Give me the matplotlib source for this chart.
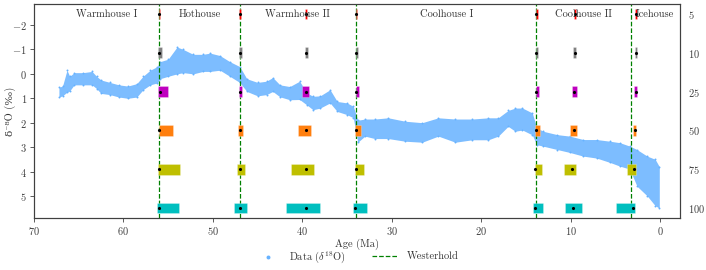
import matplotlib
matplotlib.use('Agg')
import matplotlib.pyplot as plt
import numpy as np

plt.rcParams['font.family'] = ['cmr10', 'DejaVu Serif']
plt.rcParams['mathtext.fontset'] = 'cm'
plt.rcParams['axes.formatter.use_mathtext'] = True
plt.rcParams['font.size'] = 7
plt.rcParams['axes.edgecolor'] = '0.25'
plt.rcParams['xtick.color'] = '0.25'
plt.rcParams['ytick.color'] = '0.25'
plt.rcParams['text.color'] = '0.2'
plt.rcParams['axes.labelcolor'] = '0.2'

# d18O band (age in Ma, low/high edge of the cloud)
age = [67.2, 66.8, 66.3, 66.0, 65.5, 64.5, 63.5, 63.0, 62.5, 61.5, 60.5, 59.5, 58.5,
       57.8, 57.0, 56.2, 55.9, 55.0, 54.0, 53.3, 52.2, 51.1, 50.3, 49.2, 48.1, 47.0,
       46.2, 45.0, 44.0, 43.3, 42.5, 41.4, 40.3, 39.5, 38.8, 38.0, 36.9, 36.1, 35.0,
       34.3, 33.8, 33.0, 31.9, 30.4, 28.5, 26.6, 24.8, 22.9, 21.0, 19.2, 18.1, 17.0,
       16.2, 15.4, 14.3, 13.8, 13.1, 11.5, 10.1, 8.6, 7.1, 5.6, 4.5, 3.4, 2.6, 1.45,
       0.56, 0.1]
d18o_lo = [0.55, 0.5, -0.15, 0.1, -0.05, -0.05, -0.1, 0.1, 0.25, 0.35, 0.45, 0.5, 0.4,
           0.1, -0.15, -0.3, -0.5, -0.6, -1.1, -1.0, -0.8, -0.8, -0.85, -0.75, -0.5, -0.3,
           0.2, 0.35, 0.3, 0.15, 0.45, 0.52, 0.3, 0.78, 0.92, 0.9, 0.65, 1.13, 1.19,
           1.33, 1.9, 1.85, 1.85, 1.8, 1.94, 2.0, 1.8, 1.85, 1.85, 1.8, 1.8, 1.5,
           1.4, 1.4, 1.6, 2.2, 2.35, 2.49, 2.55, 2.69, 2.69, 2.76, 2.82, 2.96, 3.1, 3.37,
           3.5, 3.8]
d18o_hi = [0.95, 0.9, 0.75, 0.7, 0.45, 0.45, 0.45, 0.6, 0.8, 0.85, 0.95, 1.0, 0.95,
           0.65, 0.45, 0.37, 0.2, 0.1, 0.0, -0.05, 0.0, -0.1, -0.1, -0.15, 0.1, 0.35,
           0.72, 0.9, 0.85, 0.72, 0.94, 1.06, 1.05, 1.27, 1.47, 1.4, 1.19, 1.54, 1.67,
           1.8, 2.8, 2.55, 2.65, 2.65, 2.76, 2.8, 2.55, 2.8, 2.7, 2.7, 2.55, 2.15,
           2.35, 2.3, 2.5, 2.9, 2.96, 3.1, 3.22, 3.37, 3.45, 3.63, 3.78, 3.9, 4.6, 5.0,
           5.4, 5.5]

# Westerhold transitions and regime names
westerhold = [56.0, 47.0, 34.0, 13.9, 3.3]
regimes = ['Warmhouse I', 'Hothouse', 'Warmhouse II', 'Coolhouse I', 'Coolhouse II', 'Icehouse']
regime_x = [61.9, 51.5, 40.5, 23.9, 8.6, 0.6]

# changepoint estimates per setting (right axis)
settings = ['5', '10', '25', '50', '75', '100']
colors = ['red', 'grey', 'm', 'tab:orange', 'y', 'c']
cp_est = [[56.0, 47.0, 39.6, 34.0, 13.85, 9.55, 2.75],
          [56.0, 47.0, 39.6, 34.0, 13.85, 9.55, 2.75],
          [55.95, 47.0, 39.6, 34.0, 13.85, 9.6, 2.75],
          [56.0, 47.0, 39.6, 34.0, 13.9, 9.6, 2.8],
          [56.0, 47.0, 39.6, 34.0, 14.0, 9.9, 2.9],
          [56.05, 47.0, 39.6, 34.1, 14.0, 9.7, 3.0]]
cp_lo = [[56.05, 47.05, 39.7, 34.05, 13.9, 9.65, 2.85],
         [56.15, 47.05, 39.75, 34.05, 13.9, 9.7, 2.85],
         [56.15, 47.1, 40.05, 34.05, 13.9, 9.9, 2.9],
         [56.05, 47.2, 40.5, 34.1, 14.0, 10.05, 3.05],
         [56.15, 47.3, 41.3, 34.1, 14.0, 10.7, 3.7],
         [56.2, 47.6, 41.8, 34.3, 14.2, 10.6, 4.95]]
cp_hi = [[55.85, 46.85, 39.45, 33.85, 13.7, 9.4, 2.6],
         [55.7, 46.75, 39.4, 33.8, 13.7, 9.4, 2.6],
         [55.0, 46.7, 39.3, 33.65, 13.5, 9.3, 2.6],
         [54.5, 46.6, 39.0, 33.4, 13.4, 9.25, 2.65],
         [53.7, 46.4, 38.7, 33.1, 13.2, 9.4, 2.7],
         [53.75, 46.2, 38.0, 32.8, 13.05, 8.7, 2.8]]

blue = '#66b2ff'

fig = plt.figure(figsize=(7.06, 2.70), dpi=100)
ax = fig.add_axes([0.048, 0.193, 0.915, 0.792])

ax.fill_between(age, d18o_lo, d18o_hi, color=blue, alpha=0.85, lw=0)
ax.scatter(age, d18o_lo, s=2, color=blue, lw=0)
ax.scatter(age, d18o_hi, s=2, color=blue, lw=0, label=r'Data ($\delta^{18}$O)')
for i, w in enumerate(westerhold):
    ax.axvline(w, color='g', ls='--', lw=0.9, label='Westerhold' if i == 0 else None)

ax.set_xlim(70, -2.2)
ax.set_ylim(5.9, -2.86)
ax.set_xticks([70, 60, 50, 40, 30, 20, 10, 0])
ax.set_yticks([-2, -1, 0, 1, 2, 3, 4, 5])
ax.tick_params(length=3, width=0.6, labelsize=7.5, pad=2)
ax.set_xlabel('Age (Ma)', fontsize=7.5, labelpad=1)
ax.set_ylabel('δ¹⁸O (‰)', fontsize=7.5)
ax.yaxis.set_label_coords(-0.027, 0.5)

ax2 = ax.twinx()
for row in range(len(settings)):
    lo = np.array(cp_lo[row])
    hi = np.array(cp_hi[row])
    ax2.barh([row] * len(lo), hi - lo, left=lo, height=0.27, color=colors[row],
             edgecolor=(1, 1, 1, 0.35), linewidth=0.5)
    ax2.plot(cp_est[row], [row] * len(lo), 'k.', ms=2.5)
ax2.set_ylim(5.25, -0.25)
ax2.set_yticks(range(len(settings)))
ax2.set_yticklabels([r'$\mathbf{%s}$' % s for s in settings])
ax2.tick_params(axis='y', length=0, pad=6, labelsize=7.5)

for name, x in zip(regimes, regime_x):
    ax2.text(x, 0, name, ha='center', va='center', fontsize=7.5)

ax.legend(loc='upper center', bbox_to_anchor=(0.5, -0.1), ncol=2, frameon=False,
          fontsize=7.5, markerscale=2, columnspacing=2.5, handlelength=2.5)

plt.savefig('out.png', dpi=100)
